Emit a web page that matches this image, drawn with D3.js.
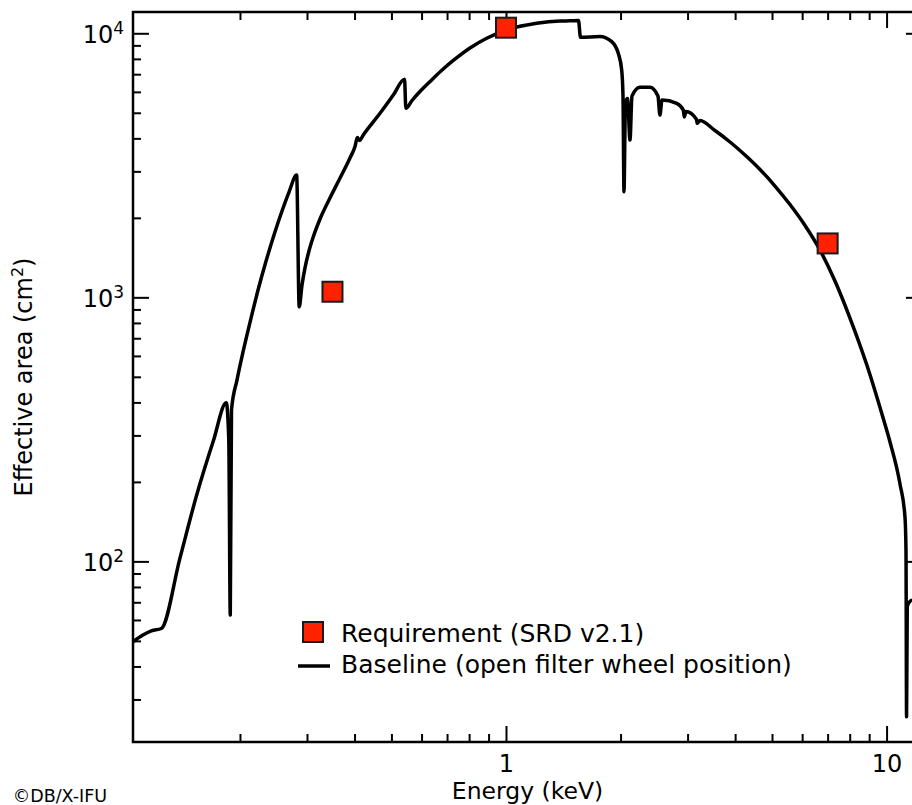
<!DOCTYPE html>
<html>
<head>
<meta charset="utf-8">
<script src="https://cdn.jsdelivr.net/npm/d3@7"></script>
<style>
 body { margin: 0; background: #fff; }
 text { font-family: "DejaVu Sans", sans-serif; fill: #000; }
</style>
</head>
<body>
<div id="chart"></div>
<script>
// effective area curve (keV, cm2)
var energy = [0.1047, 0.1112, 0.1170, 0.1243, 0.1391, 0.1539, 0.1702, 0.1841, 0.1869, 0.1886,
 0.1900, 0.1964, 0.2037, 0.2126, 0.2231, 0.2342, 0.2457, 0.2579, 0.2691, 0.2818,
 0.2862, 0.2911, 0.2963, 0.3036, 0.3115, 0.3246, 0.3447, 0.3664, 0.3891, 0.4011,
 0.4068, 0.4122, 0.4217, 0.4666, 0.5057, 0.5413, 0.5456, 0.5663, 0.5943, 0.6316,
 0.6748, 0.7270, 0.8043, 0.8899, 1.004, 1.2042, 1.3866, 1.4725, 1.5505, 1.5693,
 1.7660, 1.8960, 1.9724, 2.0137, 2.0295, 2.0418, 2.0606, 2.0854, 2.1174, 2.1433,
 2.2494, 2.3889, 2.5076, 2.5378, 2.5698, 2.8090, 2.9232, 2.9411, 2.9716, 3.1623,
 3.1813, 3.2336, 3.541, 3.878, 4.246, 4.650, 5.091, 5.575, 6.105, 6.683,
 7.318, 8.013, 8.866, 9.802, 10.21, 10.845, 11.177, 11.246, 11.285, 11.334,
 11.66, 12.39];
var area = [49.6, 52.6, 54.6, 55.7, 102.9, 178.3, 285.5, 399, 288, 62.6,
 374, 486, 621, 806, 1066, 1372, 1722, 2123, 2505, 2905,
 921, 1114, 1291, 1498, 1692, 1980, 2377, 2830, 3371, 3725,
 4030, 3926, 4120, 4977, 5838, 6695, 5198, 5565, 6018, 6567,
 7197, 7889, 8799, 9574, 10292, 10910, 11131, 11150, 11181, 9657,
 9725, 9294, 8398, 7262, 5838, 2512, 5494, 5662, 3943, 5787,
 6244, 6244, 5787, 4903, 5588, 5429, 5122, 4819, 5055, 4736,
 4561, 4674, 4283, 3875, 3459, 3049, 2640, 2246, 1871, 1511,
 1153, 835, 556.6, 347.4, 283.1, 196.3, 147.5, 110.4, 25.8, 67.7,
 71.3, 70.1];

// requirement points (SRD v2.1)
var reqEnergy = [0.35, 1.0, 7.0];
var reqArea = [1050, 10500, 1600];

var xMajor = [1, 10];
var xMinor = [0.2, 0.3, 0.4, 0.5, 0.6, 0.7, 0.8, 0.9, 2, 3, 4, 5, 6, 7, 8, 9];
var yMajor = [100, 1000, 10000];
var yExp = ["2", "3", "4"];
var yMinor = [30, 40, 50, 60, 70, 80, 90, 200, 300, 400, 500, 600, 700, 800, 900,
 2000, 3000, 4000, 5000, 6000, 7000, 8000, 9000];

var legendLabels = ["Requirement (SRD v2.1)", "Baseline (open filter wheel position)"];

var svgWidth = 912;
var svgHeight = 805;
var margin = {top: 12, left: 133, right: 922, bottom: 742};

var svg = d3.select("#chart")
 .append("svg")
   .attr("width", svgWidth)
   .attr("height", svgHeight);

var x = d3.scaleLog()
 .domain([0.1047, 12.39])
 .range([margin.left, margin.right]);
var y = d3.scaleLog()
 .domain([20.7, 12040])
 .range([margin.bottom, margin.top]);

svg.append("clipPath")
 .attr("id", "plotclip")
 .append("rect")
   .attr("x", margin.left)
   .attr("y", margin.top)
   .attr("width", margin.right - margin.left)
   .attr("height", margin.bottom - margin.top);

// axes: ticks point inward on all four sides
function styleAxis(g) {
 g.select(".domain").remove();
 g.selectAll(".tick line").attr("stroke", "#000").attr("stroke-width", 2);
}

svg.append("g")
 .attr("transform", "translate(0," + margin.bottom + ")")
 .call(d3.axisBottom(x).tickValues(xMinor).tickSizeInner(-8).tickSizeOuter(0).tickFormat(""))
 .call(styleAxis);
var bottomMajor = svg.append("g")
 .attr("transform", "translate(0," + margin.bottom + ")")
 .call(d3.axisBottom(x).tickValues(xMajor).tickSizeInner(-16).tickSizeOuter(0)
   .tickPadding(12.5).tickFormat(d3.format("d")))
 .call(styleAxis);
bottomMajor.selectAll("text").attr("font-size", 24).attr("font-family", null);

svg.append("g")
 .attr("transform", "translate(0," + margin.top + ")")
 .call(d3.axisTop(x).tickValues(xMinor).tickSizeInner(-8).tickSizeOuter(0).tickFormat(""))
 .call(styleAxis);
svg.append("g")
 .attr("transform", "translate(0," + margin.top + ")")
 .call(d3.axisTop(x).tickValues(xMajor).tickSizeInner(-16).tickSizeOuter(0).tickFormat(""))
 .call(styleAxis);

svg.append("g")
 .attr("transform", "translate(" + margin.left + ",0)")
 .call(d3.axisLeft(y).tickValues(yMinor).tickSizeInner(-8).tickSizeOuter(0).tickFormat(""))
 .call(styleAxis);
var leftMajor = svg.append("g")
 .attr("transform", "translate(" + margin.left + ",0)")
 .call(d3.axisLeft(y).tickValues(yMajor).tickSizeInner(-16).tickSizeOuter(0).tickPadding(9))
 .call(styleAxis);
leftMajor.selectAll(".tick text")
 .attr("font-size", 24)
 .attr("font-family", null)
 .attr("dy", "0.37em")
 .text(null)
 .each(function(d, i) {
   var t = d3.select(this);
   t.append("tspan").text("10");
   t.append("tspan").attr("font-size", 17).attr("dy", -9).text(yExp[i]);
 });

svg.append("g")
 .attr("transform", "translate(" + margin.right + ",0)")
 .call(d3.axisRight(y).tickValues(yMinor).tickSizeInner(-8).tickSizeOuter(0).tickFormat(""))
 .call(styleAxis);
svg.append("g")
 .attr("transform", "translate(" + margin.right + ",0)")
 .call(d3.axisRight(y).tickValues(yMajor).tickSizeInner(-16).tickSizeOuter(0).tickFormat(""))
 .call(styleAxis);

// frame
svg.append("rect")
 .attr("x", margin.left)
 .attr("y", margin.top)
 .attr("width", margin.right - margin.left)
 .attr("height", margin.bottom - margin.top)
 .attr("fill", "none")
 .attr("stroke", "#000")
 .attr("stroke-width", 2.5);

// baseline curve
var line = d3.line()
 .x(function(d, i) { return x(energy[i]); })
 .y(function(d, i) { return y(area[i]); })
 .curve(d3.curveMonotoneX);

svg.append("path")
 .datum(energy)
 .attr("clip-path", "url(#plotclip)")
 .attr("d", line)
 .attr("fill", "none")
 .attr("stroke", "#000")
 .attr("stroke-width", 3.5)
 .attr("stroke-linejoin", "round");

// requirement markers
svg.append("g")
 .selectAll("rect")
 .data(reqEnergy)
 .enter()
 .append("rect")
   .attr("x", function(d) { return x(d) - 10; })
   .attr("y", function(d, i) { return y(reqArea[i]) - 10; })
   .attr("width", 20)
   .attr("height", 20)
   .attr("fill", "#ff2200")
   .attr("stroke", "#1a1a1a")
   .attr("stroke-width", 2);

// legend
var legend = svg.append("g");
legend.append("rect")
 .attr("x", 303).attr("y", 622)
 .attr("width", 20).attr("height", 20)
 .attr("fill", "#ff2200")
 .attr("stroke", "#1a1a1a")
 .attr("stroke-width", 2);
legend.append("line")
 .attr("x1", 298).attr("x2", 330)
 .attr("y1", 666).attr("y2", 666)
 .attr("stroke", "#000")
 .attr("stroke-width", 3.5);
legend.selectAll("text")
 .data(legendLabels)
 .enter()
 .append("text")
   .attr("x", 341)
   .attr("y", function(d, i) { return 641.5 + i * 31; })
   .attr("font-size", 25)
   .text(function(d) { return d; });

// axis titles
svg.append("text")
 .attr("x", (margin.left + margin.right) / 2)
 .attr("y", 798.5)
 .attr("text-anchor", "middle")
 .attr("font-size", 23.5)
 .text("Energy (keV)");

var yTitle = svg.append("text")
 .attr("transform", "translate(32," + (margin.top + margin.bottom) / 2 + ") rotate(-90)")
 .attr("text-anchor", "middle")
 .attr("font-size", 24);
yTitle.append("tspan").text("Effective area (cm");
yTitle.append("tspan").attr("font-size", 16).attr("dy", -9).text("2");
yTitle.append("tspan").attr("dy", 9).text(")");

svg.append("text")
 .attr("x", 12.7)
 .attr("y", 801.7)
 .attr("font-size", 17.5)
 .text("©DB/X-IFU");
</script>
</body>
</html>
